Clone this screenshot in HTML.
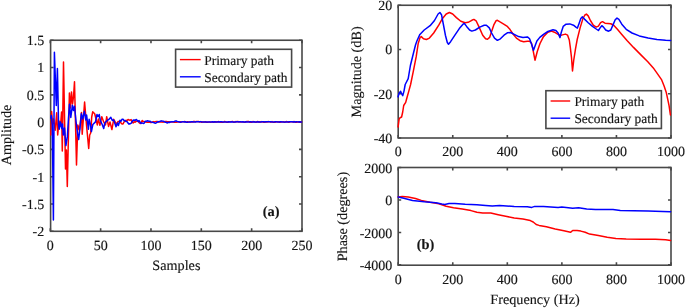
<!DOCTYPE html><html><head><meta charset="utf-8"><title>Figure</title>
<style>html,body{margin:0;padding:0;background:#fff}svg{display:block}text{font-family:"Liberation Serif","Times New Roman",serif;fill:#151515;stroke:#151515;stroke-width:0.14px;text-rendering:geometricPrecision}</style></head><body>
<svg width="685" height="308" viewBox="0 0 685 308">
<rect width="685" height="308" fill="#fff"/>
<g id="left">
<rect x="50.6" y="40.25" width="251.40" height="191.05" fill="none" stroke="#484848" stroke-width="1.6"/>
<path d="M50.30 231.3v-3.0M50.30 40.25v3.0M100.63 231.3v-3.0M100.63 40.25v3.0M150.97 231.3v-3.0M150.97 40.25v3.0M201.31 231.3v-3.0M201.31 40.25v3.0M251.64 231.3v-3.0M251.64 40.25v3.0M301.97 231.3v-3.0M301.97 40.25v3.0M50.6 40.25h3.0M302.0 40.25h-3.0M50.6 67.54h3.0M302.0 67.54h-3.0M50.6 94.84h3.0M302.0 94.84h-3.0M50.6 122.13h3.0M302.0 122.13h-3.0M50.6 149.42h3.0M302.0 149.42h-3.0M50.6 176.72h3.0M302.0 176.72h-3.0M50.6 204.01h3.0M302.0 204.01h-3.0M50.6 231.30h3.0M302.0 231.30h-3.0" stroke="#484848" stroke-width="1.6" fill="none"/>
<polyline points="50.80,135.00 51.60,111.60 52.60,124.00 53.60,119.00 55.20,130.30 56.70,112.80 57.70,134.90 59.00,121.00 60.50,126.00 61.60,111.90 62.30,151.00 63.50,61.90 65.50,168.90 66.40,150.00 67.30,186.40 69.40,93.00 70.40,108.00 71.50,91.90 72.50,104.00 73.50,97.00 74.50,81.80 76.50,165.00 77.80,125.00 79.50,130.00 81.50,112.40 82.20,134.30 84.60,102.00 86.50,125.00 88.70,148.40 89.70,135.00 90.70,133.00 91.70,117.00 92.70,111.80 94.70,113.70 96.00,119.00 97.30,124.90 98.40,118.90 99.90,125.30 101.80,116.70 103.70,121.90 105.50,124.90 106.70,116.70 108.50,126.40 110.00,121.90 111.90,129.60 113.70,119.30 116.40,124.10 118.00,121.55 119.01,121.45 120.01,121.51 121.02,123.03 122.03,123.99 123.03,123.98 124.04,121.92 125.05,121.40 126.05,120.32 127.06,120.60 128.07,119.44 129.07,120.10 130.08,120.23 131.09,119.58 132.09,122.12 133.10,123.06 134.11,121.63 135.11,122.26 136.12,121.34 137.13,121.21 138.13,120.80 139.14,122.71 140.15,123.53 141.15,122.55 142.16,120.47 143.17,121.48 144.17,121.57 145.18,122.05 146.19,121.95 147.19,122.36 148.20,122.17 149.21,121.96 150.21,122.45 151.22,122.57 152.23,122.11 153.23,121.58 154.24,122.03 155.25,121.71 156.25,121.40 157.26,121.46 158.27,121.86 159.27,122.12 160.28,122.04 161.29,121.92 162.29,121.94 163.30,122.16 164.31,121.77 165.31,121.44 166.32,121.53 167.33,121.79 168.33,121.67 169.34,121.77 170.35,122.11 171.36,121.70 172.36,122.04 173.37,121.91 174.38,122.20 175.38,122.21 176.39,122.14 177.40,122.12 178.40,121.82 179.41,122.06 180.42,121.76 181.42,121.97 182.43,121.74 183.44,121.85 184.44,121.51 185.45,121.67 186.46,122.32 187.46,121.66 188.47,122.07 189.48,122.04 190.48,122.10 191.49,121.88 192.50,121.99 193.50,121.51 194.51,121.52 195.52,121.63 196.52,121.59 197.53,121.54 198.54,121.57 199.54,121.95 200.55,121.62 201.56,122.31 202.56,122.06 203.57,121.94 204.58,122.09 205.58,121.69 206.59,122.28 207.60,122.21 208.60,122.10 209.61,121.88 210.62,122.21 211.62,122.12 212.63,122.04 213.64,122.27 214.64,122.02 215.65,121.78 216.66,121.95 217.66,121.63 218.67,121.62 219.68,122.10 220.68,122.16 221.69,122.32 222.70,122.22 223.70,121.94 224.71,121.53 225.72,121.89 226.72,122.29 227.73,122.16 228.74,121.89 229.74,121.86 230.75,121.65 231.76,121.61 232.76,121.52 233.77,122.25 234.78,122.03 235.78,121.58 236.79,121.82 237.80,121.49 238.80,121.64 239.81,122.11 240.82,122.04 241.82,121.88 242.83,121.70 243.84,122.04 244.84,122.31 245.85,121.84 246.86,121.51 247.86,121.50 248.87,121.52 249.88,122.31 250.88,121.94 251.89,122.20 252.90,121.60 253.90,121.68 254.91,122.07 255.92,122.26 256.92,121.76 257.93,121.51 258.94,122.23 259.94,121.71 260.95,122.12 261.96,121.59 262.96,122.08 263.97,122.21 264.98,122.10 265.98,121.77 266.99,122.10 268.00,121.58 269.00,121.73 270.01,121.83 271.02,122.24 272.03,121.59 273.03,122.24 274.04,122.17 275.05,122.32 276.05,121.78 277.06,121.63 278.07,121.67 279.07,122.20 280.08,122.32 281.09,122.08 282.09,121.88 283.10,121.71 284.11,122.20 285.11,122.23 286.12,121.53 287.13,121.64 288.13,122.20 289.14,122.21 290.15,121.73 291.15,121.70 292.16,121.84 293.17,121.94 294.17,121.54 295.18,122.20 296.19,121.93 297.19,122.15 298.20,121.66 299.21,122.32 300.21,122.13 301.60,121.90" fill="none" stroke="#ff0000" stroke-width="1.5" stroke-linejoin="round" stroke-linecap="round"/>
<polyline points="50.80,118.00 51.30,115.50 52.30,125.00 53.40,220.10 54.40,52.30 56.30,105.50 57.40,68.50 58.60,125.00 59.20,129.20 60.50,122.00 61.80,128.50 62.50,124.00 63.30,134.90 64.50,128.00 65.90,145.60 67.40,136.40 68.50,118.00 69.50,104.30 70.80,117.50 72.40,105.20 73.50,110.50 74.50,106.30 76.10,122.00 77.50,133.00 78.70,139.50 80.00,128.00 81.30,113.80 82.70,119.00 84.40,111.30 85.80,120.00 86.60,115.00 88.40,129.20 89.10,119.30 90.30,124.00 91.40,131.50 92.85,124.50 95.50,121.90 97.00,114.50 98.10,116.70 99.20,114.50 100.30,120.40 102.20,124.50 103.70,128.60 104.80,123.00 107.40,120.40 108.50,119.70 110.80,117.40 112.30,120.40 113.70,120.00 116.00,126.80 117.50,123.00 118.40,125.60 120.00,120.27 121.01,121.15 122.01,119.31 123.02,119.15 124.03,120.64 125.03,120.53 126.04,121.44 127.05,121.55 128.05,123.15 129.06,124.15 130.07,123.84 131.07,123.40 132.08,121.72 133.09,120.27 134.09,119.92 135.10,120.42 136.11,119.45 137.11,120.25 138.12,121.65 139.13,120.66 140.13,122.25 141.14,123.46 142.15,122.92 143.15,123.44 144.16,123.25 145.17,121.34 146.17,121.22 147.18,120.84 148.19,121.02 149.19,121.18 150.20,121.27 151.21,122.04 152.21,122.14 153.22,122.53 154.23,122.65 155.23,123.31 156.24,122.89 157.25,122.05 158.25,122.00 159.26,121.39 160.27,121.27 161.27,120.87 162.28,121.07 163.29,121.19 164.29,121.68 165.30,122.29 166.31,122.34 167.31,123.02 168.32,122.20 169.33,122.45 170.33,121.98 171.34,121.80 172.35,121.85 173.36,121.66 174.36,121.47 175.37,121.06 176.38,121.02 177.38,121.60 178.39,121.65 179.40,121.92 180.40,122.18 181.41,122.01 182.42,121.64 183.42,121.79 184.43,121.95 185.44,121.76 186.44,122.15 187.45,122.13 188.46,122.08 189.46,121.89 190.47,122.06 191.48,121.73 192.48,121.81 193.49,121.88 194.50,122.01 195.50,121.89 196.51,121.75 197.52,121.84 198.52,121.83 199.53,121.82 200.54,121.77 201.54,121.87 202.55,121.88 203.56,122.00 204.56,122.00 205.57,121.91 206.58,121.89 207.58,121.99 208.59,122.02 209.60,121.95 210.60,121.99 211.61,122.02 212.62,121.77 213.62,122.00 214.63,121.84 215.64,121.89 216.64,121.97 217.65,121.95 218.66,121.82 219.66,121.94 220.67,121.80 221.68,121.87 222.68,121.98 223.69,121.88 224.70,121.92 225.70,121.95 226.71,121.98 227.72,121.96 228.72,121.78 229.73,121.88 230.74,121.89 231.74,121.79 232.75,121.91 233.76,121.93 234.76,121.98 235.77,122.01 236.78,121.81 237.78,121.84 238.79,121.94 239.80,121.81 240.80,121.83 241.81,121.92 242.82,121.82 243.82,121.97 244.83,121.99 245.84,121.79 246.84,121.91 247.85,121.97 248.86,122.01 249.86,121.85 250.87,121.82 251.88,121.99 252.88,122.00 253.89,121.83 254.90,121.89 255.90,121.95 256.91,121.98 257.92,121.82 258.92,121.94 259.93,121.97 260.94,121.91 261.94,121.82 262.95,121.79 263.96,121.85 264.96,121.97 265.97,121.79 266.98,121.78 267.98,121.87 268.99,121.80 270.00,121.82 271.00,121.79 272.01,121.91 273.02,121.95 274.03,121.88 275.03,121.81 276.04,121.86 277.05,121.92 278.05,122.01 279.06,122.02 280.07,121.84 281.07,121.78 282.08,121.98 283.09,122.00 284.09,121.89 285.10,121.97 286.11,121.99 287.11,121.93 288.12,121.99 289.13,121.79 290.13,121.85 291.14,121.85 292.15,121.81 293.15,122.00 294.16,121.79 295.17,121.94 296.17,121.80 297.18,121.87 298.19,121.88 299.19,121.82 300.20,121.91 301.60,121.90" fill="none" stroke="#0000ff" stroke-width="1.5" stroke-linejoin="round" stroke-linecap="round"/>
<text x="50.30" y="250.0" font-size="14.0" text-anchor="middle">0</text>
<text x="100.63" y="250.0" font-size="14.0" text-anchor="middle">50</text>
<text x="150.97" y="250.0" font-size="14.0" text-anchor="middle">100</text>
<text x="201.31" y="250.0" font-size="14.0" text-anchor="middle">150</text>
<text x="251.64" y="250.0" font-size="14.0" text-anchor="middle">200</text>
<text x="301.97" y="250.0" font-size="14.0" text-anchor="middle">250</text>
<text x="44.2" y="45.15" font-size="14.0" text-anchor="end">1.5</text>
<text x="44.2" y="72.44" font-size="14.0" text-anchor="end">1</text>
<text x="44.2" y="99.74" font-size="14.0" text-anchor="end">0.5</text>
<text x="44.2" y="127.03" font-size="14.0" text-anchor="end">0</text>
<text x="44.2" y="154.32" font-size="14.0" text-anchor="end">-0.5</text>
<text x="44.2" y="181.62" font-size="14.0" text-anchor="end">-1</text>
<text x="44.2" y="208.91" font-size="14.0" text-anchor="end">-1.5</text>
<text x="44.2" y="236.20" font-size="14.0" text-anchor="end">-2</text>
<text x="176.4" y="269.6" font-size="14.2" text-anchor="middle">Samples</text>
<text transform="translate(10.6,135) rotate(-90)" font-size="14.2" text-anchor="middle">Amplitude</text>
<text x="271.1" y="215.8" font-size="14.4" font-weight="bold" text-anchor="middle">(a)</text>
<rect x="175.6" y="49.3" width="116.0" height="37.8" fill="#fff" stroke="#484848" stroke-width="1.6"/>
<path d="M179.9 59.6h20.8" stroke="#ff0000" stroke-width="1.4"/><path d="M179.9 76.8h20.8" stroke="#0000ff" stroke-width="1.4"/>
<text x="204.2" y="64.6" font-size="13.45">Primary path</text>
<text x="204.2" y="81.6" font-size="13.45">Secondary path</text>
</g>
<g id="top">
<rect x="398.2" y="5.26" width="272.80" height="132.74" fill="none" stroke="#484848" stroke-width="1.6"/>
<path d="M398.20 138.0v-3.0M398.20 5.26v3.0M452.76 138.0v-3.0M452.76 5.26v3.0M507.32 138.0v-3.0M507.32 5.26v3.0M561.88 138.0v-3.0M561.88 5.26v3.0M616.44 138.0v-3.0M616.44 5.26v3.0M671.00 138.0v-3.0M671.00 5.26v3.0M398.2 5.25h3.0M671.0 5.25h-3.0M398.2 49.50h3.0M671.0 49.50h-3.0M398.2 93.75h3.0M671.0 93.75h-3.0M398.2 137.99h3.0M671.0 137.99h-3.0" stroke="#484848" stroke-width="1.6" fill="none"/>
<polyline points="398.10,126.90 399.10,119.20 400.10,117.70 401.60,117.00 402.70,112.00 403.70,105.50 405.70,102.40 406.80,98.30 408.80,91.10 410.60,84.50 413.30,71.30 416.20,56.70 418.20,43.50 420.10,37.40 421.30,36.60 423.50,38.80 426.40,39.50 429.40,38.10 433.70,33.00 438.90,24.90 442.50,18.40 446.20,14.00 449.40,12.50 452.70,14.00 456.40,17.60 460.80,21.30 465.20,22.70 468.10,22.30 471.80,20.30 473.90,19.40 476.10,20.80 479.10,27.10 482.70,35.20 485.60,38.80 487.50,39.30 489.60,37.40 491.60,31.50 493.80,24.90 496.00,20.80 497.40,20.30 499.60,21.70 503.30,23.80 506.90,26.10 509.90,29.30 512.80,33.70 516.40,38.10 520.10,40.70 523.70,41.70 527.40,41.30 529.60,41.30 531.50,43.20 532.80,48.80 535.00,60.20 537.20,51.70 540.00,43.50 543.50,36.60 547.90,32.20 551.50,31.10 554.40,32.20 558.10,34.40 560.30,35.50 562.50,34.90 565.40,34.10 567.60,35.20 569.30,40.00 570.30,47.30 571.50,57.50 572.50,71.00 573.70,60.50 575.50,48.80 577.20,39.50 580.10,27.90 583.00,18.40 584.90,15.00 586.40,14.10 588.20,15.90 590.40,20.50 593.30,25.20 596.20,27.10 598.40,26.10 600.60,22.70 602.50,21.70 605.00,23.20 607.90,23.50 610.80,23.80 613.70,25.20 617.40,29.30 621.80,34.40 627.00,40.50 633.50,47.40 640.90,54.90 647.80,61.70 653.30,67.90 657.70,74.10 661.70,79.90 664.10,86.00 666.20,92.20 667.80,99.60 669.10,105.80 670.40,115.00" fill="none" stroke="#ff0000" stroke-width="1.5" stroke-linejoin="round" stroke-linecap="round"/>
<polyline points="398.10,96.80 399.10,93.20 400.60,91.30 401.60,93.70 402.70,95.70 404.00,91.10 405.20,84.50 408.20,78.60 410.40,65.50 413.30,53.80 415.50,45.00 416.90,41.00 419.90,34.40 424.20,30.00 430.10,25.70 434.50,20.50 438.10,14.00 439.90,12.50 441.50,14.70 443.20,23.50 445.40,35.20 447.30,42.50 448.50,44.20 450.60,41.70 454.90,35.20 459.30,28.60 463.00,24.20 464.40,23.50 466.60,26.40 469.60,30.00 471.80,31.10 475.40,30.00 479.80,27.10 484.20,25.20 486.40,25.20 489.30,27.90 491.60,33.00 494.50,38.10 497.40,40.30 500.40,38.80 504.00,35.20 507.70,32.70 510.60,32.50 514.20,34.40 518.60,36.60 523.00,37.40 527.40,36.90 529.60,38.80 531.50,44.00 533.50,50.20 535.20,45.50 536.90,41.00 539.80,37.40 543.50,34.40 547.90,31.50 553.00,29.80 555.90,30.50 558.10,33.00 560.00,37.60 561.30,32.20 563.20,26.40 566.10,24.20 569.80,23.90 573.50,25.20 575.90,27.10 577.40,28.10 578.80,24.20 580.80,18.50 582.40,16.90 584.50,19.10 588.20,22.70 592.50,26.40 596.20,29.00 598.40,30.50 600.10,27.90 601.80,25.70 603.50,27.10 605.70,30.00 608.60,31.20 610.80,30.00 613.00,24.90 615.20,19.80 617.00,18.10 618.90,19.40 621.80,24.20 626.20,29.30 632.00,33.00 639.30,35.90 648.10,38.10 656.90,39.50 665.60,40.30 670.60,40.40" fill="none" stroke="#0000ff" stroke-width="1.5" stroke-linejoin="round" stroke-linecap="round"/>
<text x="398.20" y="156.4" font-size="14.0" text-anchor="middle">0</text>
<text x="452.76" y="156.4" font-size="14.0" text-anchor="middle">200</text>
<text x="507.32" y="156.4" font-size="14.0" text-anchor="middle">400</text>
<text x="561.88" y="156.4" font-size="14.0" text-anchor="middle">600</text>
<text x="616.44" y="156.4" font-size="14.0" text-anchor="middle">800</text>
<text x="671.00" y="156.4" font-size="14.0" text-anchor="middle">1000</text>
<text x="392.3" y="10.15" font-size="14.0" text-anchor="end">20</text>
<text x="392.3" y="54.40" font-size="14.0" text-anchor="end">0</text>
<text x="392.3" y="98.65" font-size="14.0" text-anchor="end">-20</text>
<text x="392.3" y="142.89" font-size="14.0" text-anchor="end">-40</text>
<text transform="translate(361.0,71.9) rotate(-90)" font-size="14.2" text-anchor="middle">Magnitude (dB)</text>
<rect x="545.9" y="90.7" width="115.5" height="37.8" fill="#fff" stroke="#484848" stroke-width="1.6"/>
<path d="M550.6 101.0h19.6" stroke="#ff0000" stroke-width="1.4"/><path d="M550.6 118.2h19.6" stroke="#0000ff" stroke-width="1.4"/>
<text x="574.4" y="106.0" font-size="13.45">Primary path</text>
<text x="574.4" y="123.0" font-size="13.45">Secondary path</text>
</g>
<g id="bot">
<rect x="398.2" y="167.5" width="272.80" height="97.70" fill="none" stroke="#484848" stroke-width="1.6"/>
<path d="M398.20 265.2v-3.0M398.20 167.5v3.0M452.76 265.2v-3.0M452.76 167.5v3.0M507.32 265.2v-3.0M507.32 167.5v3.0M561.88 265.2v-3.0M561.88 167.5v3.0M616.44 265.2v-3.0M616.44 167.5v3.0M671.00 265.2v-3.0M671.00 167.5v3.0M398.2 167.54h3.0M671.0 167.54h-3.0M398.2 200.00h3.0M671.0 200.00h-3.0M398.2 232.46h3.0M671.0 232.46h-3.0M398.2 264.92h3.0M671.0 264.92h-3.0" stroke="#484848" stroke-width="1.6" fill="none"/>
<polyline points="398.20,197.00 402.30,196.40 408.20,197.10 415.50,198.50 421.30,200.40 430.10,202.30 438.90,203.70 446.20,206.20 453.50,207.70 462.30,209.10 471.00,210.60 476.90,212.30 482.70,213.10 488.60,213.10 490.80,213.10 498.20,214.70 506.90,216.50 514.20,218.00 523.00,219.10 530.30,220.60 533.20,222.00 536.20,224.50 539.10,225.40 546.40,226.70 555.20,228.90 563.90,230.80 570.50,232.30 572.70,230.50 577.10,230.50 580.80,231.10 585.20,232.30 589.60,234.10 598.40,235.50 607.20,237.30 615.90,238.50 626.20,239.00 640.80,239.30 655.40,239.30 665.60,239.80 670.60,240.50" fill="none" stroke="#ff0000" stroke-width="1.5" stroke-linejoin="round" stroke-linecap="round"/>
<polyline points="398.20,197.00 403.80,198.20 412.50,200.40 424.20,201.80 435.90,202.80 441.80,204.00 444.70,204.40 449.10,203.60 454.90,203.60 465.20,204.30 476.90,204.70 485.60,205.40 492.30,206.10 499.60,205.50 514.20,206.40 527.40,206.70 531.80,207.40 534.70,206.40 543.50,206.50 558.10,207.40 561.80,207.00 572.70,208.20 578.60,207.80 586.70,209.10 595.50,209.60 604.20,209.60 613.00,209.40 620.30,210.50 633.50,210.70 648.10,211.10 662.70,211.50 670.60,211.70" fill="none" stroke="#0000ff" stroke-width="1.5" stroke-linejoin="round" stroke-linecap="round"/>
<text x="398.20" y="283.6" font-size="14.0" text-anchor="middle">0</text>
<text x="452.76" y="283.6" font-size="14.0" text-anchor="middle">200</text>
<text x="507.32" y="283.6" font-size="14.0" text-anchor="middle">400</text>
<text x="561.88" y="283.6" font-size="14.0" text-anchor="middle">600</text>
<text x="616.44" y="283.6" font-size="14.0" text-anchor="middle">800</text>
<text x="671.00" y="283.6" font-size="14.0" text-anchor="middle">1000</text>
<text x="392.3" y="172.64" font-size="14.0" text-anchor="end">2000</text>
<text x="392.3" y="205.10" font-size="14.0" text-anchor="end">0</text>
<text x="392.3" y="237.56" font-size="14.0" text-anchor="end">-2000</text>
<text x="392.3" y="270.02" font-size="14.0" text-anchor="end">-4000</text>
<text x="535" y="303.5" font-size="14.2" text-anchor="middle">Frequency (Hz)</text>
<text transform="translate(347.0,216.6) rotate(-90)" font-size="14.2" text-anchor="middle">Phase (degrees)</text>
<text x="425.5" y="249.2" font-size="14.4" font-weight="bold" text-anchor="middle">(b)</text>
</g>
</svg></body></html>
